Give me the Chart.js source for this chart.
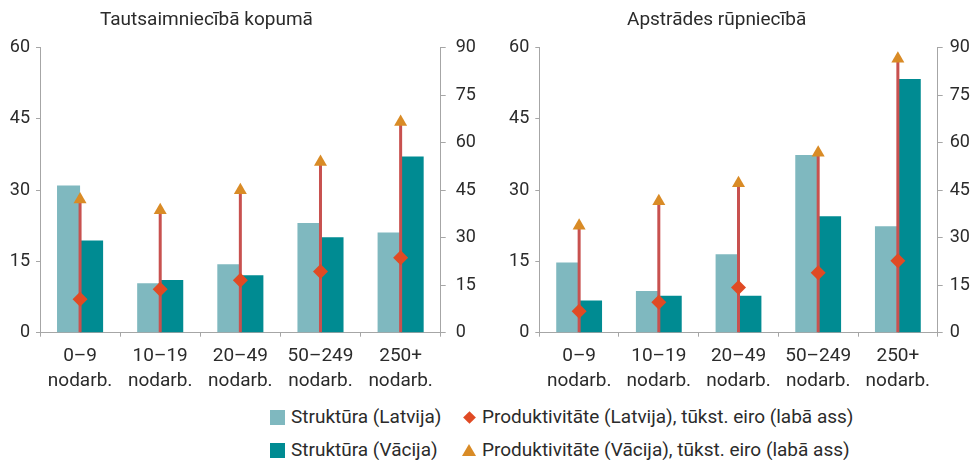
<!DOCTYPE html>
<html>
<head>
<meta charset="utf-8">
<script src="https://cdn.jsdelivr.net/npm/chart.js@4"></script>
<style>
    body { margin: 0; background: #fff; font-family: Roboto, sans-serif; color: #2b2b2b; }
    #wrap { position: relative; width: 971px; height: 460px; }
    canvas { position: absolute; top: 0; }
    .title { position: absolute; top: 7px; font-size: 19px; line-height: 24px; white-space: nowrap; }
    .leg { position: absolute; font-size: 19px; line-height: 22px; white-space: nowrap; }
    .sq { position: absolute; width: 15px; height: 15px; }
    .dia { position: absolute; width: 9px; height: 9px; background: #e04a24; transform: rotate(45deg); }
    .tri { position: absolute; width: 0; height: 0; border-left: 7px solid transparent; border-right: 7px solid transparent; border-bottom: 12px solid #d98b26; }
</style>
</head>
<body>
<div id="wrap">
    <canvas id="chartTotal" width="488" height="400" style="left:0;width:488px;height:400px"></canvas>
    <canvas id="chartMfg" width="483" height="400" style="left:488px;width:483px;height:400px"></canvas>
    <div class="title" style="left:100px">Tautsaimniecībā kopumā</div>
    <div class="title" style="left:627px">Apstrādes rūpniecībā</div>

    <div class="sq" style="left:270px;top:410px;background:#7fb8bf"></div>
    <div class="leg" style="left:291px;top:406px">Struktūra (Latvija)</div>
    <div class="sq" style="left:270px;top:443px;background:#008b92"></div>
    <div class="leg" style="left:291px;top:439px">Struktūra (Vācija)</div>
    <div class="dia" style="left:465px;top:413px"></div>
    <div class="leg" style="left:482px;top:406px">Produktivitāte (Latvija), tūkst. eiro (labā ass)</div>
    <div class="tri" style="left:462px;top:444px"></div>
    <div class="leg" style="left:482px;top:439px">Produktivitāte (Vācija), tūkst. eiro (labā ass)</div>
</div>
<script>
// kategorijas (uzņēmumu lielums pēc nodarbināto skaita)
const categories = [['0–9', 'nodarb.'], ['10–19', 'nodarb.'], ['20–49', 'nodarb.'], ['50–249', 'nodarb.'], ['250+', 'nodarb.']];

// Tautsaimniecībā kopumā
const shareLvTotal = [31.0, 10.4, 14.4, 23.1, 21.1];
const shareDeTotal = [19.4, 11.1, 12.1, 20.1, 37.1];
const prodLvTotal = [10.6, 13.7, 16.6, 19.3, 23.7];
const prodDeTotal = [42.1, 38.7, 45.0, 53.9, 66.5];

// Apstrādes rūpniecībā
const shareLvMfg = [14.8, 8.8, 16.5, 37.4, 22.4];
const shareDeMfg = [6.8, 7.8, 7.8, 24.5, 53.4];
const prodLvMfg = [6.8, 9.6, 14.3, 18.9, 22.7];
const prodDeMfg = [33.8, 41.5, 47.2, 56.8, 86.5];

const leftTicks = [0, 15, 30, 45, 60];
const rightTicks = [0, 15, 30, 45, 60, 75, 90];

Chart.defaults.font.family = 'Roboto';
Chart.defaults.font.size = 18;
Chart.defaults.color = '#2b2b2b';

const axisGray = '#a6a6a6';

function makeChart(id, shareLv, shareDe, prodLv, prodDe, geom) {
    const ctx = document.getElementById(id).getContext('2d');
    return new Chart(ctx, {
        type: 'bar',
        data: {
            labels: categories,
            datasets: [
                {
                    label: 'Produktivitāte (Latvija), tūkst. eiro (labā ass)',
                    type: 'line',
                    data: prodLv,
                    yAxisID: 'y1',
                    showLine: false,
                    pointStyle: 'rectRot',
                    pointRadius: 7.5,
                    backgroundColor: '#e04a24',
                    borderColor: '#e04a24',
                    borderWidth: 0,
                    order: 0
                },
                {
                    label: 'Produktivitāte (Vācija), tūkst. eiro (labā ass)',
                    type: 'line',
                    data: prodDe,
                    yAxisID: 'y1',
                    showLine: false,
                    pointStyle: 'triangle',
                    pointRadius: 7.5,
                    backgroundColor: '#d98b26',
                    borderColor: '#d98b26',
                    borderWidth: 0,
                    order: 1
                },
                {
                    label: 'starpība',
                    data: prodDe.map(v => [0, v]),
                    yAxisID: 'y1',
                    grouped: false,
                    maxBarThickness: 3,
                    backgroundColor: '#c8514f',
                    order: 2
                },
                {
                    label: 'Struktūra (Latvija)',
                    data: shareLv,
                    yAxisID: 'y',
                    backgroundColor: '#7fb8bf',
                    categoryPercentage: 0.575,
                    barPercentage: 1,
                    order: 3
                },
                {
                    label: 'Struktūra (Vācija)',
                    data: shareDe,
                    yAxisID: 'y',
                    backgroundColor: '#008b92',
                    categoryPercentage: 0.575,
                    barPercentage: 1,
                    order: 3
                }
            ]
        },
        options: {
            responsive: false,
            animation: false,
            layout: { padding: { top: 47.7, left: 0, right: 0, bottom: 0 } },
            plugins: { legend: { display: false }, tooltip: { enabled: false } },
            scales: {
                x: {
                    grid: { offset: true, drawOnChartArea: false, color: axisGray, tickLength: 4 },
                    border: { color: axisGray },
                    ticks: { padding: 7, maxRotation: 0, autoSkip: false, font: { size: 19, lineHeight: 1.32 } },
                    afterFit: s => { s.height = geom.xh; }
                },
                y: {
                    position: 'left',
                    min: 0, max: 60,
                    afterBuildTicks: s => { s.ticks = leftTicks.map(v => ({ value: v })); },
                    grid: { drawOnChartArea: false, color: axisGray, tickLength: 4 },
                    border: { color: axisGray },
                    ticks: { padding: 6 },
                    afterFit: s => { s.width = geom.lw; }
                },
                y1: {
                    position: 'right',
                    min: 0, max: 90,
                    afterBuildTicks: s => { s.ticks = rightTicks.map(v => ({ value: v })); },
                    grid: { drawOnChartArea: false, color: axisGray, tickLength: 5 },
                    border: { color: axisGray },
                    ticks: { padding: geom.rp },
                    afterFit: s => { s.width = geom.rw; }
                }
            }
        }
    });
}

makeChart('chartTotal', shareLvTotal, shareDeTotal, prodLvTotal, prodDeTotal, { xh: 67.3, lw: 40, rw: 47.3, rp: 10 });
makeChart('chartMfg', shareLvMfg, shareDeMfg, prodLvMfg, prodDeMfg, { xh: 67.3, lw: 51.3, rw: 33.3, rp: 7 });
</script>
</body>
</html>
